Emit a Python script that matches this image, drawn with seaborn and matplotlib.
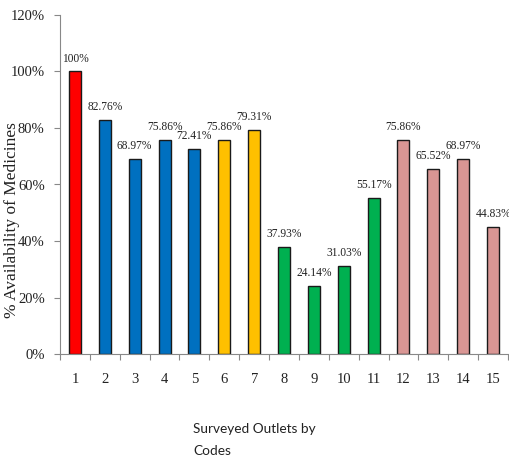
import matplotlib
matplotlib.use("Agg")
import matplotlib.pyplot as plt
import seaborn as sns
import pandas as pd
from matplotlib.ticker import FixedLocator, FuncFormatter

codes = [str(i) for i in range(1, 16)]
values = [100, 82.76, 68.97, 75.86, 72.41, 75.86, 79.31, 37.93, 24.14, 31.03, 55.17, 75.86, 65.52, 68.97, 44.83]
labels = ["100%", "82.76%", "68.97%", "75.86%", "72.41%", "75.86%", "79.31%", "37.93%", "24.14%", "31.03%",
          "55.17%", "75.86%", "65.52%", "68.97%", "44.83%"]
groups = ["G1", "G2", "G2", "G2", "G2", "G3", "G3", "G4", "G4", "G4", "G4", "G5", "G5", "G5", "G5"]
group_colors = {"G1": "#FF0000", "G2": "#0070C0", "G3": "#FFC000", "G4": "#00B050", "G5": "#D99694"}

df = pd.DataFrame({"code": codes, "value": values, "group": groups})

sns.set_theme(style="white")
plt.rcParams["font.family"] = ["Liberation Serif", "DejaVu Serif"]

fig = plt.figure(figsize=(5.09, 4.61), dpi=100)
ax = fig.add_axes([60/509, 1-354/461, 448/509, (354-15)/461])

sns.barplot(data=df, x="code", y="value", hue="group", palette=group_colors, dodge=False,
            saturation=1, width=0.4, edgecolor="#1a1a1a", linewidth=1.0, legend=False, ax=ax)

for i, (v, lab) in enumerate(zip(values, labels)):
    ax.annotate(lab, (i, v), xytext=(0, 5), textcoords="offset points", ha="center", va="bottom",
                fontsize=8.3, color="#222222")

ax.set_ylim(0, 120)
ax.set_xlim(-0.5, 14.5)
ax.set_yticks(range(0, 121, 20))
ax.yaxis.set_major_formatter(FuncFormatter(lambda v, p: f"{int(v)}%"))
ax.tick_params(axis="y", which="major", left=True, length=4, width=0.8, color="#888888",
               labelsize=10.5, pad=7, labelcolor="#222222")
ax.tick_params(axis="x", which="major", bottom=False, length=0, labelsize=10.5, pad=14, labelcolor="#222222")
ax.xaxis.set_minor_locator(FixedLocator([i - 0.5 for i in range(16)]))
ax.tick_params(axis="x", which="minor", bottom=True, length=4, width=0.8, color="#888888")

for s in ["top", "right"]:
    ax.spines[s].set_visible(False)
for s in ["left", "bottom"]:
    ax.spines[s].set_color("#888888")
    ax.spines[s].set_linewidth(0.8)

ax.set_ylabel("% Availability of Medicines", fontsize=12.5, color="#222222")
ax.yaxis.set_label_coords((20-60)/448, (354-220)/339)
ax.set_xlabel("")
fig.text(193/509, 1-440/461, "Surveyed Outlets by\nCodes", ha="left", va="center",
         fontsize=9.8, family=["Lato", "DejaVu Sans"], color="#222222", linespacing=2.0)

fig.savefig("out.png", dpi=100)
